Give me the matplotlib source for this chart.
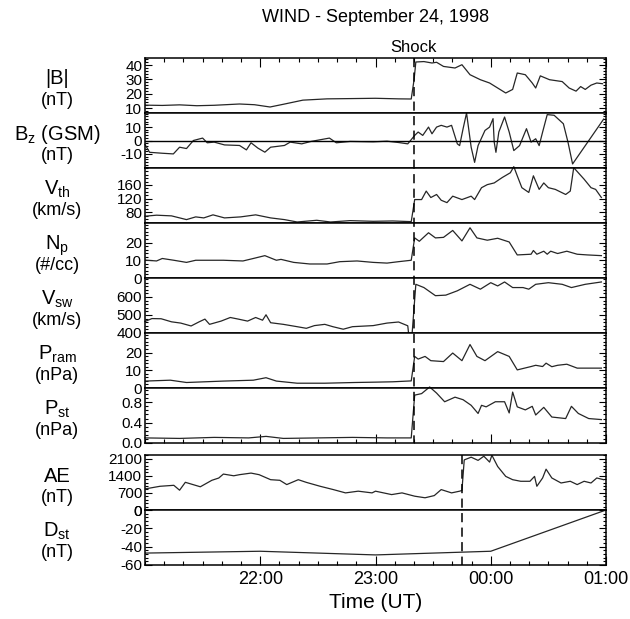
import matplotlib
matplotlib.use("Agg")
import matplotlib.pyplot as plt
from matplotlib.ticker import MultipleLocator, FixedLocator, FuncFormatter
from matplotlib.transforms import blended_transform_factory
from matplotlib.lines import Line2D

plt.rcParams["font.family"] = ["Liberation Sans", "DejaVu Sans"]
plt.rcParams["mathtext.default"] = "regular"
plt.rcParams["axes.unicode_minus"] = False

# ---- data (UT hours, values after midnight written as 24+) ----
t_b = [21.00, 21.15, 21.30, 21.45, 21.60, 21.82, 21.95, 22.085, 22.20, 22.37, 22.58, 22.80,
       23.00, 23.20, 23.31, 23.335, 23.35, 23.42, 23.49, 23.53, 23.59, 23.69, 23.75, 23.82,
       23.91, 23.99, 24.06, 24.13, 24.19, 24.23, 24.30, 24.36, 24.39, 24.43, 24.51, 24.62,
       24.68, 24.74, 24.78, 24.82, 24.87, 24.92, 24.97]
b_mag = [12.0, 11.8, 12.2, 11.6, 11.9, 12.8, 12.3, 10.7, 12.6, 15.5, 16.4, 16.6,
         16.8, 16.4, 16.3, 30.0, 42.2, 42.5, 41.5, 42.0, 39.1, 38.0, 40.3, 33.3,
         29.8, 27.5, 24.0, 20.5, 23.0, 34.5, 33.3, 27.5, 24.0, 32.5, 29.8, 28.5,
         24.0, 21.8, 25.0, 23.0, 26.0, 27.5, 27.0]

t_bz = [21.00, 21.04, 21.15, 21.246, 21.30, 21.36, 21.42, 21.50, 21.54, 21.60, 21.69, 21.82,
        21.88, 21.92, 21.98, 22.04, 22.09, 22.21, 22.26, 22.36, 22.44, 22.60, 22.66, 22.78,
        22.98, 23.10, 23.20, 23.28, 23.34, 23.37, 23.41, 23.46, 23.49, 23.53, 23.57, 23.62,
        23.66, 23.71, 23.73, 23.76, 23.79, 23.83, 23.86, 23.89, 23.95, 23.99, 24.02, 24.03,
        24.045, 24.07, 24.12, 24.16, 24.20, 24.25, 24.31, 24.35, 24.39, 24.42, 24.45, 24.49,
        24.55, 24.63, 24.67, 24.71, 24.98]
bz = [-3.0, -8.8, -9.5, -10.0, -5.0, -6.0, 0.0, 1.8, -1.7, -1.2, -3.3, -3.7,
      -7.0, -1.7, -5.7, -8.7, -5.0, -3.7, -1.2, -2.5, -0.7, 1.8, -1.7, -0.7,
      -1.0, -0.5, -1.5, -2.5, 3.8, 6.3, 3.8, 10.0, 5.0, 10.0, 11.3, 10.0,
      11.3, -2.5, -3.8, 8.8, 20.5, -5.0, -16.3, -3.8, 7.5, 10.0, 16.3, -1.2,
      -8.8, 6.3, 17.5, 6.3, -7.5, -3.8, 8.8, -1.2, 1.3, -3.8, 6.3, 19.3,
      18.8, 12.5, -1.2, -17.5, 16.0]

t_vth = [21.00, 21.10, 21.23, 21.36, 21.44, 21.51, 21.59, 21.69, 21.83, 21.96, 22.09, 22.21,
         22.32, 22.49, 22.61, 22.78, 22.98, 23.15, 23.31, 23.34, 23.40, 23.44, 23.48, 23.53,
         23.57, 23.62, 23.67, 23.75, 23.83, 23.86, 23.92, 23.97, 24.03, 24.10, 24.17, 24.20,
         24.23, 24.27, 24.33, 24.37, 24.42, 24.46, 24.50, 24.56, 24.65, 24.69, 24.72, 24.81,
         24.87, 24.91, 24.96]
vth = [68, 71, 69, 58, 66, 63, 72, 63, 66, 72, 63, 58,
       51, 56, 51, 55, 53, 54, 52, 117, 117, 142, 123, 132,
       115, 108, 127, 117, 127, 117, 152, 161, 166, 182, 196, 214,
       187, 152, 138, 187, 147, 166, 152, 147, 132, 142, 211, 177,
       152, 147, 123]

t_np = [21.00, 21.10, 21.15, 21.25, 21.36, 21.44, 21.68, 21.85, 21.94, 22.04, 22.14, 22.18,
        22.29, 22.43, 22.58, 22.69, 22.84, 22.98, 23.10, 23.20, 23.31, 23.34, 23.38, 23.46,
        23.52, 23.59, 23.67, 23.75, 23.82, 23.88, 23.97, 24.06, 24.16, 24.23, 24.35, 24.37,
        24.40, 24.46, 24.49, 24.52, 24.58, 24.66, 24.75, 24.84, 24.96]
n_p = [10.1, 9.6, 11.0, 10.0, 8.8, 10.0, 10.0, 9.6, 11.0, 12.6, 10.0, 10.5,
       8.8, 7.9, 7.9, 9.2, 9.6, 8.8, 8.4, 9.2, 10.0, 22.6, 20.7, 25.5,
       22.6, 22.9, 26.8, 20.9, 28.3, 22.6, 21.3, 22.4, 20.3, 13.0, 13.4, 15.5,
       13.4, 15.1, 13.4, 15.1, 13.8, 15.1, 13.4, 13.0, 12.6]

t_vsw = [21.00, 21.06, 21.14, 21.23, 21.31, 21.40, 21.47, 21.52, 21.56, 21.66, 21.74, 21.81,
         21.89, 21.96, 22.02, 22.05, 22.09, 22.20, 22.32, 22.40, 22.47, 22.56, 22.63, 22.72,
         22.80, 22.98, 23.10, 23.20, 23.28, 23.305, 23.35, 23.42, 23.52, 23.61, 23.71, 23.82,
         23.91, 24.00, 24.06, 24.12, 24.19, 24.28, 24.33, 24.39, 24.50, 24.62, 24.70, 24.82,
         24.96]
vsw = [464, 480, 479, 462, 455, 439, 462, 477, 448, 466, 486, 477,
       466, 486, 471, 501, 457, 448, 435, 426, 441, 448, 435, 421,
       435, 441, 455, 461, 440, 290, 670, 652, 607, 610, 634, 670,
       643, 679, 661, 683, 652, 652, 643, 670, 679, 670, 652, 670,
       683]

t_pram = [21.00, 21.22, 21.36, 21.68, 21.94, 22.05, 22.14, 22.32, 22.56, 22.82, 23.00, 23.15,
          23.31, 23.34, 23.37, 23.43, 23.48, 23.59, 23.67, 23.75, 23.82, 23.88, 23.95, 24.06,
          24.16, 24.23, 24.35, 24.39, 24.45, 24.48, 24.53, 24.58, 24.66, 24.75, 24.96]
pram = [3.9, 4.4, 3.1, 3.9, 4.4, 5.8, 3.9, 2.7, 2.7, 3.1, 3.3, 3.5,
        4.0, 17.8, 16.3, 17.8, 15.4, 14.9, 19.7, 15.4, 24.5, 17.8, 15.4, 20.5,
        17.8, 10.2, 12.1, 12.8, 12.1, 14.0, 12.0, 12.8, 13.4, 11.2, 11.2]

t_pst = [21.00, 21.30, 21.60, 21.90, 22.05, 22.20, 22.50, 22.80, 23.10, 23.31, 23.34, 23.40,
         23.47, 23.53, 23.60, 23.69, 23.76, 23.83, 23.89, 23.92, 23.96, 24.04, 24.12, 24.16,
         24.19, 24.23, 24.30, 24.36, 24.39, 24.46, 24.53, 24.65, 24.70, 24.76, 24.85, 24.96]
pst = [0.10, 0.09, 0.11, 0.10, 0.13, 0.09, 0.10, 0.11, 0.10, 0.10, 0.94, 0.97,
       1.10, 0.98, 0.81, 0.90, 0.85, 0.74, 0.58, 0.74, 0.71, 0.81, 0.81, 0.59,
       1.00, 0.71, 0.65, 0.72, 0.55, 0.70, 0.51, 0.48, 0.72, 0.58, 0.48, 0.46]

t_ae = [21.00, 21.13, 21.25, 21.30, 21.35, 21.48, 21.58, 21.64, 21.68, 21.77, 21.82, 21.92,
        21.99, 22.09, 22.17, 22.23, 22.33, 22.40, 22.52, 22.63, 22.74, 22.85, 22.97, 23.00,
        23.14, 23.23, 23.34, 23.43, 23.51, 23.57, 23.66, 23.73, 23.75, 23.77, 23.83, 23.89,
        23.94, 23.99, 24.01, 24.06, 24.13, 24.19, 24.26, 24.34, 24.38, 24.40, 24.45, 24.48,
        24.53, 24.61, 24.69, 24.75, 24.81, 24.87, 24.92, 24.98]
ae = [862, 970, 1010, 810, 1133, 950, 1215, 1308, 1470, 1400, 1445, 1510,
      1445, 1240, 1215, 1040, 1240, 1130, 970, 840, 700, 770, 700, 770,
      630, 700, 565, 500, 590, 835, 700, 770, 800, 2050, 2160, 2030,
      2200, 1960, 2240, 1780, 1375, 1240, 1175, 1175, 1375, 970, 1310, 1670,
      1310, 1105, 1175, 1040, 1175, 1105, 1310, 1240]

t_dst = [21, 22, 23, 24, 25]
dst = [-47, -45, -49, -45, 0]

shock_time = 23.333
ae_mark_time = 23.75

# ---- panel definitions ----
panels = [
    ("|B|", "(nT)", t_b, b_mag, (6.5, 45), [10, 20, 30, 40], 2),
    (r"$B_z$ (GSM)", "(nT)", t_bz, bz, (-20.5, 20.5), [-10, 0, 10], 2),
    (r"$V_{th}$", "(km/s)", t_vth, vth, (48, 210), [80, 120, 160], 10),
    (r"$N_p$", "(#/cc)", t_np, n_p, (0, 31), [0, 10, 20], 2),
    (r"$V_{sw}$", "(km/s)", t_vsw, vsw, (400, 705), [400, 500, 600], 20),
    (r"$P_{ram}$", "(nPa)", t_pram, pram, (0, 31), [0, 10, 20], 2),
    (r"$P_{st}$", "(nPa)", t_pst, pst, (0, 1.08), [0.0, 0.4, 0.8], 0.08),
    ("AE", "(nT)", t_ae, ae, (0, 2250), [0, 700, 1400, 2100], 140),
    (r"$D_{st}$", "(nT)", t_dst, dst, (-60, 0), [-60, -40, -20, 0], 4),
]

W, H = 630, 619
fig = plt.figure(figsize=(W / 100, H / 100), dpi=100)

left, right = 145, 606
tops = [58 + 55 * i for i in range(7)] + [455, 510]
ph = 55

axes = []
for i, (name, unit, tx, vals, ylim, yticks, yminor) in enumerate(panels):
    top = tops[i]
    ax = fig.add_axes([left / W, 1 - (top + ph) / H, (right - left) / W, ph / H])
    axes.append(ax)
    clip = i not in (1, 2, 4, 6)
    ax.plot(tx, vals, color="#262626", lw=0.9, clip_on=clip)
    ax.set_xlim(21, 25)
    ax.set_ylim(*ylim)
    ax.yaxis.set_major_locator(FixedLocator(yticks))
    ax.yaxis.set_minor_locator(MultipleLocator(yminor))
    if i == 6:
        ax.yaxis.set_major_formatter(FuncFormatter(lambda v, p: f"{v:.1f}"))
    ax.tick_params(axis="y", which="both", direction="in", left=True, right=True,
                   labelsize=11, pad=2, width=0.8)
    ax.tick_params(axis="y", which="major", length=5)
    ax.tick_params(axis="y", which="minor", length=2.5)
    for sp in ax.spines.values():
        sp.set_linewidth(1.1)

    ax.xaxis.set_major_locator(FixedLocator([22, 23, 24, 25]))
    ax.xaxis.set_minor_locator(MultipleLocator(1 / 6))
    show_top = i == 0
    show_bottom = i in (6, 8)
    ax.tick_params(axis="x", which="both", direction="in", top=show_top,
                   bottom=show_bottom, labelbottom=(i == 8), width=0.8)
    ax.tick_params(axis="x", which="major", length=6.5, labelsize=13, pad=4)
    ax.tick_params(axis="x", which="minor", length=3)
    ax.xaxis.set_major_formatter(FuncFormatter(lambda v, p: f"{int(round(v)) % 24:02d}:00"))

    # left-hand labels
    cy = 1 - (top + ph / 2) / H
    fig.text(57 / W, cy + 1 / H, name, ha="center", va="baseline", fontsize=14.5)
    fig.text(57 / W, cy - 15 / H, unit, ha="center", va="center", fontsize=13)

axes[1].axhline(0, color="black", lw=1.0)

# dashed markers
tr = blended_transform_factory(axes[0].transData, fig.transFigure)
fig.add_artist(Line2D([shock_time, shock_time], [1 - 58 / H, 1 - 443 / H], transform=tr,
                      color="black", lw=1.1, linestyle=(0, (6, 3.5))))
fig.text(shock_time, 1 - 47 / H, "Shock", transform=tr, ha="center", va="center", fontsize=12)
fig.add_artist(Line2D([ae_mark_time, ae_mark_time], [1 - 455 / H, 1 - 565 / H], transform=tr,
                      color="black", lw=1.1, linestyle=(0, (6, 3.5))))

fig.text(376 / W, 1 - 18 / H, "WIND - September 24, 1998", ha="center", va="center", fontsize=13)
fig.text(376 / W, 1 - 602 / H, "Time (UT)", ha="center", va="center", fontsize=15)

fig.savefig("out.png", dpi=100)
